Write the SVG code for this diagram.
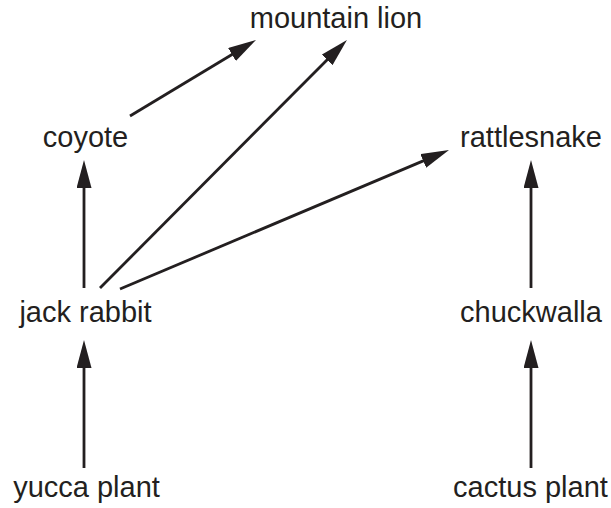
<svg xmlns="http://www.w3.org/2000/svg" width="611" height="508" viewBox="0 0 611 508">
<style>
.lbl{font-family:"Liberation Sans",Arial,sans-serif;font-size:29px;fill:#231f20;text-anchor:middle}
.edge{stroke:#231f20;stroke-width:2.8;fill:none;marker-end:url(#ah)}
</style>
<defs>
<marker id="ah" markerUnits="userSpaceOnUse" viewBox="0 0 28 15" refX="18" refY="7.5" markerWidth="28" markerHeight="15" orient="auto">
<path d="M0,0 L28,7.5 L0,15 Z" fill="#231f20"/>
</marker>
</defs>
<rect width="611" height="508" fill="#fff"/>
<g id="connectors">
<line class="edge" x1="130" y1="116" x2="247.4" y2="45.2"/>
<line class="edge" x1="100" y1="288" x2="339.9" y2="47.1"/>
<line class="edge" x1="120" y1="289" x2="439.8" y2="153.9"/>
<line class="edge" x1="84" y1="468" x2="84" y2="350"/>
<line class="edge" x1="84" y1="288" x2="84" y2="170"/>
<line class="edge" x1="531" y1="468" x2="531" y2="350"/>
<line class="edge" x1="531" y1="288" x2="531" y2="170"/>
</g>
<g id="mountain-lion"><text class="lbl" x="336" y="28">mountain lion</text></g>
<g id="coyote"><text class="lbl" x="85.5" y="147">coyote</text></g>
<g id="rattlesnake"><text class="lbl" x="531" y="147">rattlesnake</text></g>
<g id="jack-rabbit"><text class="lbl" x="85.5" y="322">jack rabbit</text></g>
<g id="chuckwalla"><text class="lbl" x="531" y="322">chuckwalla</text></g>
<g id="yucca-plant"><text class="lbl" x="86.5" y="497">yucca plant</text></g>
<g id="cactus-plant"><text class="lbl" x="530.5" y="497">cactus plant</text></g>
</svg>
